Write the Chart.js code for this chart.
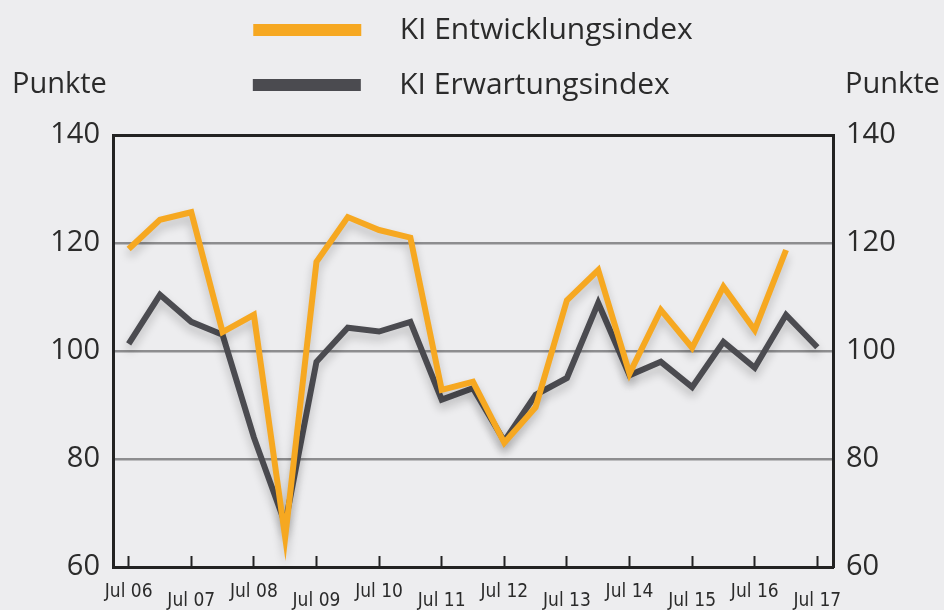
<!DOCTYPE html>
<html>
<head>
<meta charset="utf-8">
<script src="https://cdn.jsdelivr.net/npm/chart.js@4.4.0/dist/chart.umd.min.js"></script>
<style>
  html, body { margin: 0; padding: 0; background: #ededef; }
  canvas { display: block; }
</style>
</head>
<body>
<canvas id="myChart" width="944" height="610"></canvas>
<script>
// half-year steps, only the July ones get a label
const categories = ['Jul 06','Jan 07','Jul 07','Jan 08','Jul 08','Jan 09','Jul 09','Jan 10','Jul 10','Jan 11','Jul 11','Jan 12',
                    'Jul 12','Jan 13','Jul 13','Jan 14','Jul 14','Jan 15','Jul 15','Jan 16','Jul 16','Jan 17','Jul 17'];

const entwicklung = [118.9, 124.3, 125.7, 103.5, 106.7, 65.5, 116.5, 124.8, 122.4, 121.0, 92.8, 94.3,
                     83.0, 89.6, 109.4, 115.0, 95.8, 107.6, 100.6, 111.9, 103.9, 118.7, null];
const erwartung   = [101.3, 110.4, 105.4, 103.0, 84.0, 68.0, 98.0, 104.3, 103.6, 105.4, 91.0, 93.1,
                     83.3, 91.9, 95.0, 108.9, 95.5, 98.0, 93.3, 101.7, 96.9, 106.7, 100.7];

const yTicks = [60, 80, 100, 120, 140];
const seriesNames = ['KI Entwicklungsindex', 'KI Erwartungsindex'];
const axisUnit = 'Punkte';

const ORANGE = '#f6a821';
const GREY = '#4b4b50';
const INK = '#2b2b2b';

// soft drop shadow under the lines
const lineShadow = {
  id: 'lineShadow',
  beforeDatasetsDraw(chart) {
    const ctx = chart.ctx;
    ctx.save();
    ctx.shadowColor = 'rgba(0,0,0,0.22)';
    ctx.shadowBlur = 10;
    ctx.shadowOffsetY = 6;
  },
  afterDatasetsDraw(chart) {
    chart.ctx.restore();
  }
};

// "Punkte" over both value axes
const unitLabels = {
  id: 'unitLabels',
  afterDraw(chart) {
    const ctx = chart.ctx;
    ctx.save();
    ctx.font = '29px "Open Sans"';
    ctx.fillStyle = INK;
    ctx.textAlign = 'left';
    ctx.textBaseline = 'alphabetic';
    ctx.fillText(axisUnit, 12, 93);
    ctx.fillText(axisUnit, chart.scales.y1.left + 12, 93);
    ctx.restore();
  }
};

const legendPad = ['', '   '];

const data = {
  labels: categories,
  datasets: [{
    label: seriesNames[0],
    data: entwicklung,
    borderColor: ORANGE,
    backgroundColor: ORANGE,
    borderWidth: 6,
    pointRadius: 0,
    borderJoinStyle: 'miter',
    yAxisID: 'y'
  }, {
    label: seriesNames[1],
    data: erwartung,
    borderColor: GREY,
    backgroundColor: GREY,
    borderWidth: 6,
    pointRadius: 0,
    borderJoinStyle: 'miter',
    yAxisID: 'y'
  }]
};

const yScale = (pos) => ({
  position: pos,
  min: yTicks[0],
  max: yTicks[yTicks.length - 1],
  afterBuildTicks: (scale) => { scale.ticks = yTicks.map(v => ({ value: v })); },
  afterFit: (scale) => { scale.width = pos === 'left' ? 113 : 111; },
  border: { display: true, color: '#222', width: 3 },
  grid: pos === 'left' ? {
    drawTicks: false,
    color: (c) => c.tick.value === 140 ? '#222' : (c.tick.value === 60 ? 'rgba(0,0,0,0)' : '#8d8d8f'),
    lineWidth: (c) => c.tick.value === 140 ? 3 : 2.5
  } : { drawTicks: false, drawOnChartArea: false },
  ticks: {
    padding: 13,
    color: INK,
    font: { family: 'Open Sans', size: 29 }
  }
});

const config = {
  type: 'line',
  data: data,
  plugins: [lineShadow, unitLabels],
  options: {
    responsive: false,
    animation: false,
    layout: { padding: { top: -10, left: 0, right: 0, bottom: 0 } },
    scales: {
      x: {
        type: 'category',
        offset: true,
        afterFit: (scale) => { scale.height = 43; },
        border: { display: true, color: '#222', width: 3 },
        grid: {
          offset: false,
          drawOnChartArea: false,
          tickLength: -11,
          tickWidth: 2,
          tickColor: (c) => c.index % 2 ? 'rgba(0,0,0,0)' : '#222'
        },
        ticks: {
          autoSkip: false,
          maxRotation: 0,
          minRotation: 0,
          padding: 32,
          color: INK,
          font: { family: "'Liberation Sans Narrow', 'DejaVu Sans Condensed', sans-serif", size: 19, lineHeight: 0.47 },
          callback: function (value, index) {
            if (index % 2) return '';
            const lab = this.getLabelForValue(value);
            return (index / 2) % 2 ? ['', lab] : [lab];
          }
        }
      },
      y: yScale('left'),
      y1: yScale('right')
    },
    plugins: {
      tooltip: { enabled: false },
      title: {
        display: true,
        text: '',
        weight: 500,
        font: { size: 1, lineHeight: 1 },
        padding: { top: 0, bottom: 24 }
      },
      legend: {
        position: 'top',
        fullSize: false,
        align: 'center',
        labels: {
          boxWidth: 108,
          boxHeight: 12,
          padding: 25,
          color: INK,
          font: { family: 'Open Sans', size: 30 },
          generateLabels: (chart) => Chart.defaults.plugins.legend.labels.generateLabels(chart).map((item, i) => {
            item.text = '   ' + item.text + legendPad[i];
            item.fillStyle = chart.data.datasets[i].borderColor;
            item.lineWidth = 0;
            item.strokeStyle = 'rgba(0,0,0,0)';
            return item;
          })
        }
      }
    }
  }
};

let myChart = new Chart(document.getElementById('myChart'), config);
</script>
</body>
</html>
